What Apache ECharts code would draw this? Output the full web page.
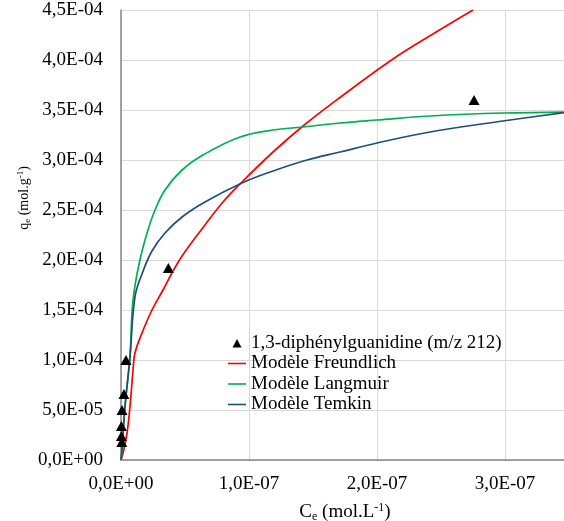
<!DOCTYPE html>
<html>
<head>
<meta charset="utf-8">
<script src="https://cdn.jsdelivr.net/npm/echarts@6/dist/echarts.min.js"></script>
<style>
html,body{margin:0;padding:0;background:#fff;}
#chart{width:564px;height:521px;}
</style>
</head>
<body>
<div id="chart"></div>
<script>
// Experimental points: Ce (mol/L), qe (mol/g)
var expCe = [3.9e-9, 2.3e-9, 0.8e-9, 0.3e-9, 0.3e-9, 0.6e-9, 3.7e-8, 2.758e-7];
var expQe = [1.0e-4, 6.6e-5, 5.0e-5, 3.4e-5, 2.4e-5, 1.8e-5, 1.92e-4, 3.60e-4];

// Freundlich model curve
var freCe = [0, 1.6e-9, 4.7e-9, 7.0e-9, 9.4e-9, 10.9e-9, 16.4e-9, 24.2e-9, 32.8e-9, 39.8e-9, 47.7e-9, 65.6e-9, 79.7e-9, 94.5e-9, 118.8e-9, 142.2e-9, 169.5e-9, 212.5e-9, 245e-9, 275e-9];
var freQe = [0, 7e-6, 2.7e-5, 5.3e-5, 9.0e-5, 1.07e-4, 1.27e-4, 1.50e-4, 1.70e-4, 1.87e-4, 2.04e-4, 2.35e-4, 2.58e-4, 2.78e-4, 3.08e-4, 3.34e-4, 3.61e-4, 4.01e-4, 4.27e-4, 4.50e-4];

// Langmuir model curve
var lanCe = [0, 0.78e-9, 3.1e-9, 7.0e-9, 9.4e-9, 14.8e-9, 21.1e-9, 26.6e-9, 34.4e-9, 47.7e-9, 64.1e-9, 93.0e-9, 118.8e-9, 142.2e-9, 171.1e-9, 200e-9, 241.4e-9, 298.4e-9, 350e-9];
var lanQe = [0, 1.0e-5, 5.3e-5, 1.03e-4, 1.60e-4, 2.00e-4, 2.30e-4, 2.50e-4, 2.70e-4, 2.90e-4, 3.05e-4, 3.23e-4, 3.30e-4, 3.33e-4, 3.37e-4, 3.40e-4, 3.44e-4, 3.47e-4, 3.48e-4];

// Temkin model curve
var temCe = [0, 0.78e-9, 3.1e-9, 7.0e-9, 10.9e-9, 16.4e-9, 24.2e-9, 34.4e-9, 47.7e-9, 65.6e-9, 94.5e-9, 118.8e-9, 145.3e-9, 171.1e-9, 200e-9, 241.4e-9, 298.4e-9, 350e-9];
var temQe = [0, 1.0e-5, 5.3e-5, 1.03e-4, 1.63e-4, 1.86e-4, 2.09e-4, 2.27e-4, 2.43e-4, 2.58e-4, 2.77e-4, 2.89e-4, 3.00e-4, 3.08e-4, 3.17e-4, 3.28e-4, 3.39e-4, 3.48e-4];

var seriesNames = ['1,3-diphénylguanidine (m/z 212)', 'Modèle Freundlich', 'Modèle Langmuir', 'Modèle Temkin'];
var seriesColors = ['#000000', '#ff0000', '#00b050', '#1f4e79'];

function zip(a, b) { return a.map(function (v, i) { return [v, b[i]]; }); }

function sci(v) {
  if (Math.abs(v) < 1e-20) return '0,0E+00';
  var e = Math.floor(Math.log10(Math.abs(v)) + 1e-9);
  var m = v / Math.pow(10, e);
  var ms = m.toFixed(1);
  if (ms === '10.0') { e += 1; ms = '1.0'; }
  var ae = Math.abs(e);
  return ms.replace('.', ',') + 'E' + (e < 0 ? '-' : '+') + (ae < 10 ? '0' : '') + ae;
}

var FONT = '"Liberation Serif", "Times New Roman", serif';
var LINE_ICON = 'path://M0,0 M0,6.2 L18,6.2 L18,7.8 L0,7.8 Z M18,14';
var TRI_ICON = 'path://M0,0 M4.5,11.5 L9,3 L13.5,11.5 Z M18,14';

function lineSeries(i, ce, qe) {
  return {
    name: seriesNames[i],
    type: 'line',
    showSymbol: false,
    symbol: 'none',
    smooth: 0.4,
    lineStyle: { color: seriesColors[i], width: 1.7 },
    itemStyle: { color: seriesColors[i] },
    data: zip(ce, qe)
  };
}

var chart = echarts.init(document.getElementById('chart'));
chart.setOption({
  animation: false,
  backgroundColor: '#ffffff',
  textStyle: { fontFamily: FONT, color: '#000' },
  grid: { left: 121, top: 10, right: -5, bottom: 61, containLabel: false, outerBoundsMode: 'none' },
  legend: {
    orient: 'vertical',
    left: 223,
    top: 328,
    itemWidth: 18,
    itemHeight: 14,
    itemGap: 0.5,
    textStyle: { fontFamily: FONT, fontSize: 19, lineHeight: 20, color: '#000' },
    data: [
      { name: seriesNames[0], icon: TRI_ICON, itemStyle: { color: seriesColors[0] } },
      { name: seriesNames[1], icon: LINE_ICON, itemStyle: { color: seriesColors[1] } },
      { name: seriesNames[2], icon: LINE_ICON, itemStyle: { color: seriesColors[2] } },
      { name: seriesNames[3], icon: LINE_ICON, itemStyle: { color: seriesColors[3] } }
    ]
  },
  xAxis: {
    type: 'value',
    min: 0,
    max: 3.5e-7,
    interval: 1e-7,
    axisLine: { show: true, lineStyle: { color: '#868686', width: 1.5 } },
    axisTick: { show: false },
    splitLine: { show: true, lineStyle: { color: '#d9d9d9', width: 1 } },
    axisLabel: { formatter: sci, fontFamily: FONT, fontSize: 19, color: '#000', margin: 15, showMaxLabel: false },
    name: '{a|C}{sub|e}{a| (mol.L}{sup|-1}{a|)}',
    nameLocation: 'middle',
    nameGap: 42,
    nameMoveOverlap: false,
    nameTextStyle: {
      rich: {
        a: { fontFamily: FONT, fontSize: 19, color: '#000' },
        sub: { fontFamily: FONT, fontSize: 12, color: '#000', padding: [9, 0, 0, 0] },
        sup: { fontFamily: FONT, fontSize: 12, color: '#000', padding: [0, 0, 9, 0] }
      }
    }
  },
  yAxis: {
    type: 'value',
    min: 0,
    max: 4.5e-4,
    interval: 0.5e-4,
    axisLine: { show: true, lineStyle: { color: '#868686', width: 1.5 } },
    axisTick: { show: false },
    splitLine: { show: true, lineStyle: { color: '#d9d9d9', width: 1 } },
    axisLabel: { formatter: sci, fontFamily: FONT, fontSize: 19, color: '#000', margin: 18 },
    name: '{a|q}{sub|e}{a| (mol.g}{sup|-1}{a|)}',
    nameLocation: 'middle',
    nameGap: 89,
    nameMoveOverlap: false,
    nameTextStyle: {
      padding: [0, 0, 0, 74],
      rich: {
        a: { fontFamily: FONT, fontSize: 14, color: '#000' },
        sub: { fontFamily: FONT, fontSize: 9, color: '#000', padding: [7, 0, 0, 0] },
        sup: { fontFamily: FONT, fontSize: 9, color: '#000', padding: [0, 0, 7, 0] }
      }
    }
  },
  series: [
    {
      name: seriesNames[0],
      type: 'scatter',
      symbol: 'triangle',
      symbolSize: [11, 10],
      itemStyle: { color: seriesColors[0], opacity: 1 },
      data: zip(expCe, expQe),
      z: 5
    },
    lineSeries(1, freCe, freQe),
    lineSeries(2, lanCe, lanQe),
    lineSeries(3, temCe, temQe)
  ]
});
</script>
</body>
</html>
